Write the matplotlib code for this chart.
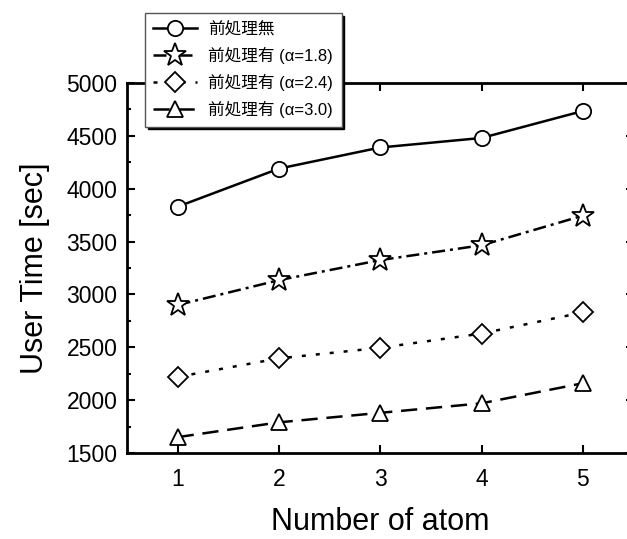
import matplotlib
matplotlib.use("Agg")
import matplotlib.pyplot as plt
from matplotlib.ticker import MultipleLocator

plt.rcParams['font.family'] = ['Liberation Sans', 'Noto Sans CJK JP', 'DejaVu Sans']

# data
atoms = [1, 2, 3, 4, 5]
no_pre = [3830, 4190, 4390, 4480, 4735]
pre_18 = [2900, 3135, 3325, 3465, 3745]
pre_24 = [2220, 2395, 2495, 2630, 2830]
pre_30 = [1650, 1790, 1880, 1970, 2160]
labels = ['前処理無', '前処理有 (α=1.8)', '前処理有 (α=2.4)', '前処理有 (α=3.0)']

fig = plt.figure(figsize=(6.27, 5.39), dpi=100)
ax = fig.add_axes([127/627, 86/539, 506.5/627, 370/539])

kw = dict(color='black', lw=1.8, mfc='white', mec='black', mew=1.3)
ax.plot(atoms, no_pre, marker='o', ms=11, ls='-', label=labels[0], **kw)
ax.plot(atoms, pre_18, marker='*', ms=17, ls=(0, (5.2, 2, 1.2, 2)), label=labels[1], **kw)
ax.plot(atoms, pre_24, marker='D', ms=10, ls=(0, (1.6, 4)), label=labels[2], **kw)
ax.plot(atoms, pre_30, marker='^', ms=12, ls=(0, (6.5, 3.5)), label=labels[3], **kw)

ax.set_xlim(0.5, 5.5)
ax.set_ylim(1500, 5000)
ax.xaxis.set_major_locator(MultipleLocator(1))
ax.yaxis.set_major_locator(MultipleLocator(500))
ax.yaxis.set_minor_locator(MultipleLocator(250))
ax.tick_params(which='both', direction='in', top=True, right=True, width=1.5,
               labelsize=16.5)
ax.tick_params(which='major', length=6)
ax.tick_params(which='minor', length=3)
ax.tick_params(axis='x', pad=11)
ax.tick_params(axis='y', pad=7)
for s in ax.spines.values():
    s.set_linewidth(2)

ax.set_xlabel('Number of atom', fontsize=22, labelpad=11)
ax.set_ylabel('User Time [sec]', fontsize=22, labelpad=12)

leg = ax.legend(loc='upper left', bbox_to_anchor=(145/627, 1 - 13/539),
                bbox_transform=fig.transFigure, fontsize=12, fancybox=False,
                shadow={'color': 'black', 'alpha': 1}, framealpha=1,
                edgecolor='#555555', borderaxespad=0, handlelength=2.6,
                labelspacing=0.6, borderpad=0.5, handletextpad=0.7)
leg.get_frame().set_linewidth(1)

fig.savefig('out.png', dpi=100)
